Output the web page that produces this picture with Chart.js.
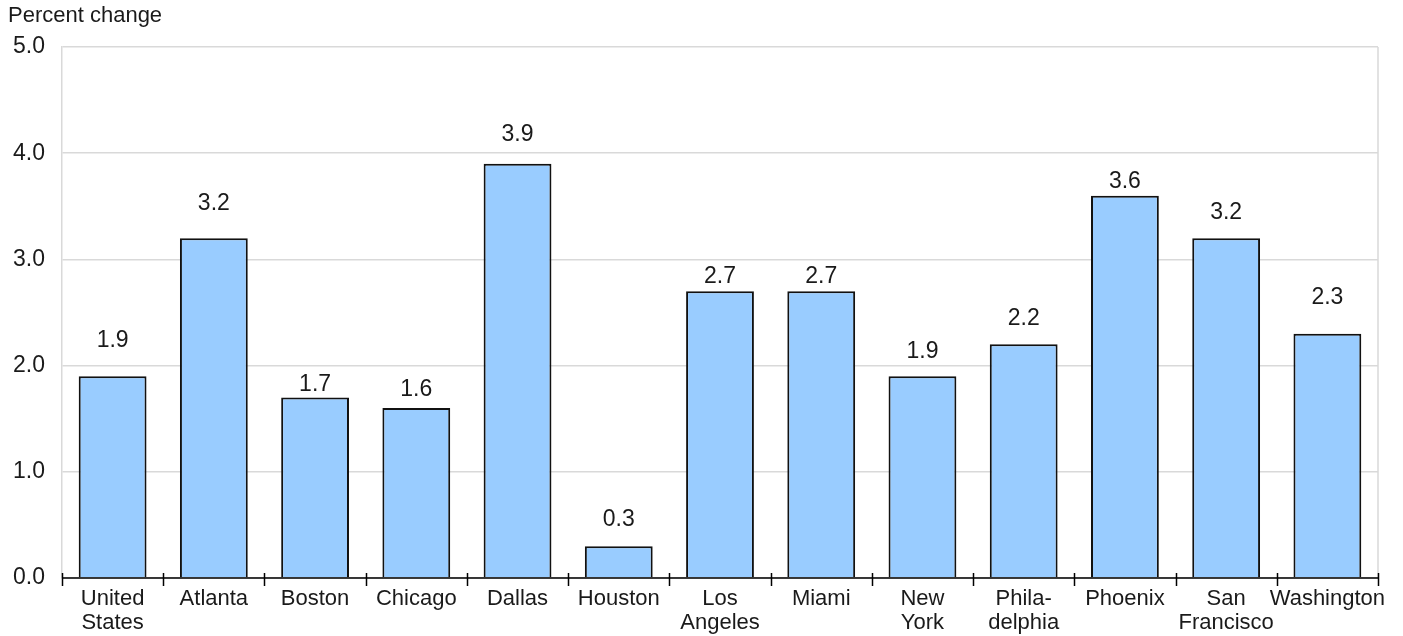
<!DOCTYPE html>
<html>
<head>
<meta charset="utf-8">
<script src="https://cdn.jsdelivr.net/npm/chart.js@4.4.1/dist/chart.umd.min.js"></script>
<style>
  html, body { margin: 0; padding: 0; background: #fff; }
  #wrap { width: 1403px; height: 636px; }
</style>
</head>
<body>
<div id="wrap"><canvas id="chart"></canvas></div>
<script>
// Datos
const cities = [
  ["United", "States"], "Atlanta", "Boston", "Chicago", "Dallas", "Houston",
  ["Los", "Angeles"], "Miami", ["New", "York"], ["Phila-", "delphia"],
  "Phoenix", ["San", "Francisco"], "Washington"
];
const percentChange = [1.9, 3.2, 1.7, 1.6, 3.9, 0.3, 2.7, 2.7, 1.9, 2.2, 3.6, 3.2, 2.3];
const yTicks = [0, 1, 2, 3, 4, 5];

const FONT = "'Liberation Sans', Arial, sans-serif";
const TEXT = "#1a1a1a";

// Distancia (px) de cada etiqueta sobre su barra, como en el original
const labelLift = [36, 35, 13, 18, 29, 26, 15, 15, 25, 26, 14, 26, 36];

const frame = {
  id: "frame",
  afterDatasetsDraw(chart) {
    const { ctx, chartArea: a } = chart;
    ctx.save();
    // borde derecho gris
    ctx.strokeStyle = "#d9d9d9";
    ctx.lineWidth = 1.5;
    ctx.beginPath();
    ctx.moveTo(a.right, a.top);
    ctx.lineTo(a.right, a.bottom);
    ctx.stroke();
    // eje x negro con marcas entre categorías
    ctx.strokeStyle = "#000";
    ctx.lineWidth = 1.5;
    ctx.beginPath();
    ctx.moveTo(a.left, a.bottom);
    ctx.lineTo(a.right, a.bottom);
    const step = (a.right - a.left) / cities.length;
    for (let i = 0; i <= cities.length; i++) {
      const px = Math.round(a.left + i * step) + 0.5;
      ctx.moveTo(px, a.bottom - 5);
      ctx.lineTo(px, a.bottom + 8);
    }
    ctx.stroke();

    // valores sobre las barras
    ctx.fillStyle = TEXT;
    ctx.font = "23px " + FONT;
    ctx.textAlign = "center";
    ctx.textBaseline = "middle";
    const meta = chart.getDatasetMeta(0);
    meta.data.forEach((bar, i) => {
      ctx.fillText(percentChange[i].toFixed(1), bar.x, bar.y - labelLift[i]);
    });

    // título del eje
    ctx.font = "22px " + FONT;
    ctx.textAlign = "left";
    ctx.fillText("Percent change", 8, 16);
    ctx.restore();
  }
};

new Chart(document.getElementById("chart"), {
  type: "bar",
  data: {
    labels: cities,
    datasets: [{
      data: percentChange,
      backgroundColor: "#99ccff",
      borderColor: "#111",
      borderWidth: 2,
      borderSkipped: "bottom",
      barPercentage: 0.67,
      categoryPercentage: 1
    }]
  },
  options: {
    responsive: true,
    maintainAspectRatio: false,
    animation: false,
    layout: { padding: { top: 47, right: 25, left: 0, bottom: 0 } },
    plugins: {
      legend: { display: false },
      tooltip: { enabled: false }
    },
    scales: {
      x: {
        offset: true,
        grid: { display: false },
        border: { display: false },
        ticks: {
          color: TEXT,
          font: { family: FONT, size: 22, lineHeight: 1.1 },
          padding: 1,
          maxRotation: 0,
          autoSkip: false
        },
        afterFit: s => { s.height = 58; }
      },
      y: {
        min: 0,
        max: 5,
        afterBuildTicks: s => { s.ticks = yTicks.map(v => ({ value: v })); },
        grid: { color: "#d9d9d9", lineWidth: 1.5, drawTicks: false },
        border: { color: "#d9d9d9", width: 1.5 },
        ticks: {
          color: TEXT,
          font: { family: FONT, size: 23 },
          padding: 17,
          callback: v => Number(v).toFixed(1)
        },
        afterFit: s => { s.width = 62; }
      }
    }
  },
  plugins: [frame]
});
</script>
</body>
</html>
